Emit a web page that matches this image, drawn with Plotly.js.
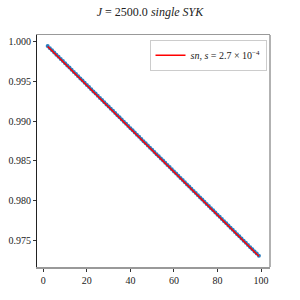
<!DOCTYPE html>
<html>
<head>
<meta charset="utf-8">
<script src="https://cdn.plot.ly/plotly-3.0.1.min.js"></script>
<style>html,body{margin:0;padding:0;background:#fff}#c{width:300px;height:300px}</style>
</head>
<body>
<div id="c"></div>
<script>
const xs = [2,3,4,5,6,7,8,9,10,11,12,13,14,15,16,17,18,19,20,21,22,23,24,25,26,27,28,29,30,31,32,33,34,35,36,37,38,39,40,41,42,43,44,45,46,47,48,49,50,51,52,53,54,55,56,57,58,59,60,61,62,63,64,65,66,67,68,69,70,71,72,73,74,75,76,77,78,79,80,81,82,83,84,85,86,87,88,89,90,91,92,93,94,95,96,97,98,99];
const ys = [0.99945,0.99918,0.99891,0.99864,0.99836,0.99809,0.99782,0.99755,0.99727,0.99700,
0.99673,0.99646,0.99618,0.99591,0.99564,0.99537,0.99509,0.99482,0.99455,0.99428,
0.99400,0.99373,0.99346,0.99319,0.99291,0.99264,0.99237,0.99209,0.99182,0.99155,
0.99128,0.99100,0.99073,0.99046,0.99019,0.98991,0.98964,0.98937,0.98910,0.98882,
0.98855,0.98828,0.98801,0.98773,0.98746,0.98719,0.98692,0.98664,0.98637,0.98610,
0.98582,0.98555,0.98528,0.98501,0.98473,0.98446,0.98419,0.98392,0.98364,0.98337,
0.98310,0.98283,0.98255,0.98228,0.98201,0.98174,0.98146,0.98119,0.98092,0.98065,
0.98037,0.98010,0.97983,0.97955,0.97928,0.97901,0.97874,0.97846,0.97819,0.97792,
0.97765,0.97737,0.97710,0.97683,0.97656,0.97628,0.97601,0.97574,0.97547,0.97519,
0.97492,0.97465,0.97438,0.97410,0.97383,0.97356,0.97329,0.97301];
const fitX = [2, 99];
const fitY = [0.99938, 0.97296];
const xTicks = [0,20,40,60,80,100];
const yTicks = [0.975,0.980,0.985,0.990,0.995,1.000];
const titleText = "<i>J</i> = 2500.0 <i>single SYK</i>";
const legendText = "<i>sn</i>, <i>s</i> = 2.7 × 10<sup>−4</sup>";

const font = {family: "Liberation Serif, DejaVu Serif, serif", size: 10, color: "#222"};
const data = [
  {x: xs, y: ys, mode: "markers", type: "scatter", showlegend: false,
   marker: {color: "#2a7fc0", size: 4}},
  {x: fitX, y: fitY, mode: "lines", type: "scatter", name: legendText,
   line: {color: "#ff0000", width: 1.5}}
];
const layout = {
  width: 300, height: 300,
  margin: {l: 37, r: 30, t: 35, b: 33},
  paper_bgcolor: "#fff", plot_bgcolor: "#fff",
  font: font,
  title: {text: titleText, x: 0.5, xanchor: "center", y: 0.96, yanchor: "middle",
          font: {family: "Liberation Serif, DejaVu Serif, serif", size: 12, color: "#222"}},
  xaxis: {range: [-2.9, 104.1], tickvals: xTicks, ticktext: xTicks.map(String),
          showgrid: false, zeroline: false, showline: true, linecolor: "#999", linewidth: 1.5,
          mirror: true, ticks: "outside", ticklen: 3, tickcolor: "#333", tickfont: font},
  yaxis: {range: [0.9716, 1.00084], tickvals: yTicks, ticktext: yTicks.map(v => v.toFixed(3)),
          showgrid: false, zeroline: false, showline: true, linecolor: "#222", linewidth: 1,
          ticks: "outside", ticklen: 3, tickcolor: "#333", tickfont: font},
  shapes: [{type: "line", xref: "paper", yref: "paper", x0: 1, x1: 1, y0: 0, y1: 1,
            line: {color: "#999", width: 1.5}}],
  legend: {x: 0.985, y: 0.98, xanchor: "right", yanchor: "top", itemwidth: 30,
           bgcolor: "rgba(255,255,255,0.9)", bordercolor: "#ccc", borderwidth: 1,
           font: font}
};
Plotly.newPlot("c", data, layout, {displayModeBar: false, staticPlot: true});
</script>
</body>
</html>
